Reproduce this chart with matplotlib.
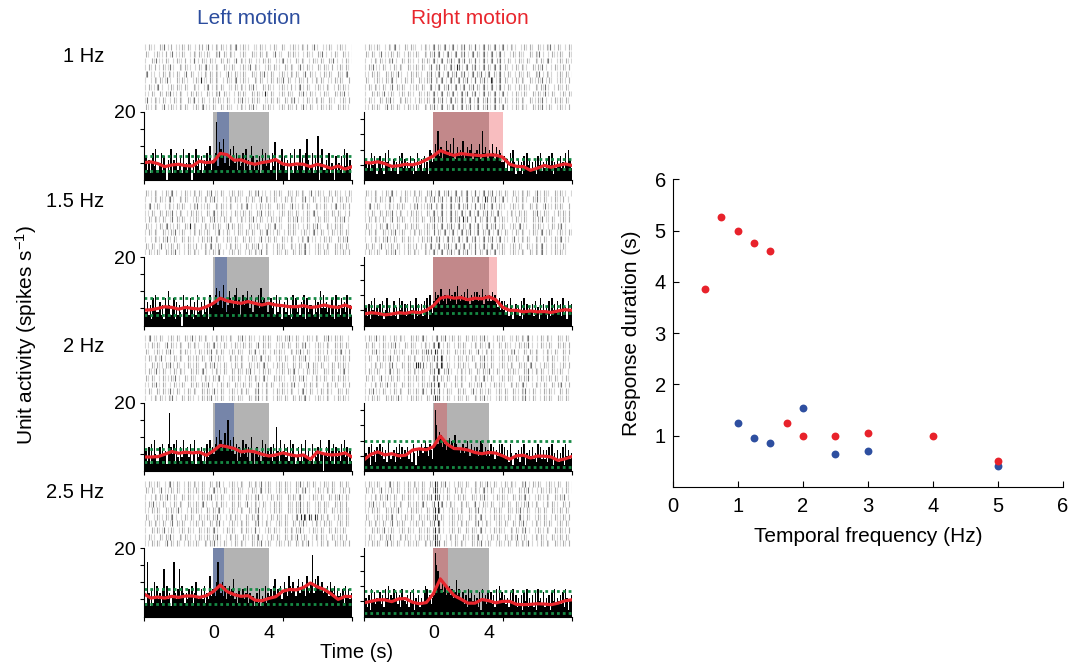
import numpy as np
import matplotlib.pyplot as plt

plt.rcParams['font.family'] = ['Liberation Sans', 'DejaVu Sans']
plt.rcParams['mathtext.fontset'] = 'custom'
plt.rcParams['mathtext.rm'] = 'Liberation Sans'
plt.rcParams['mathtext.it'] = 'Liberation Sans:italic'
plt.rcParams['mathtext.default'] = 'regular'

BLUE = '#2c4d9e'
RED = '#e8262d'
GREEN = '#168a44'

row_labels = ['1 Hz', '1.5 Hz', '2 Hz', '2.5 Hz']

# smoothed rate (spikes/s) every 0.5 s from -5 to 10 s
rate_t = np.arange(-5, 10.25, 0.5)
left_rate = [
    [5.1, 5.3, 4.8, 3.9, 4.4, 4.6, 4.2, 4.1, 5.5, 5.1, 5.3, 7.8, 7.4, 5.8, 5.9, 5.1,
     4.6, 5.1, 5.4, 6.0, 4.7, 4.4, 4.7, 4.6, 3.9, 4.6, 4.1, 3.4, 4.1, 3.2, 3.9],
    [4.5, 4.6, 5.0, 5.5, 5.3, 4.8, 5.3, 5.0, 4.8, 5.5, 6.5, 8.0, 7.2, 6.8, 6.5, 7.0,
     6.5, 6.0, 6.5, 6.0, 5.8, 5.5, 5.5, 5.8, 5.3, 5.5, 6.0, 5.5, 5.3, 6.0, 5.2],
    [4.1, 4.1, 4.2, 4.9, 5.7, 5.2, 5.5, 5.3, 5.5, 4.6, 5.9, 7.5, 7.1, 6.6, 5.6, 5.9,
     5.6, 4.9, 4.4, 4.7, 5.3, 4.8, 4.4, 4.7, 3.4, 5.6, 5.0, 4.7, 4.8, 5.3, 4.1],
    [6.6, 5.4, 5.7, 5.4, 5.9, 5.6, 6.0, 6.0, 5.6, 6.1, 7.3, 9.2, 7.3, 6.4, 5.9, 6.1,
     4.8, 4.6, 5.3, 5.8, 7.4, 7.9, 7.8, 8.5, 9.8, 8.7, 7.9, 6.6, 5.0, 5.9, 5.8],
]
right_rate = [
    [5.8, 5.6, 6.0, 5.4, 4.5, 4.7, 5.2, 5.0, 5.6, 6.7, 7.9, 9.7, 8.8, 8.1, 8.7, 8.4,
     8.2, 8.0, 8.3, 8.2, 7.5, 5.2, 4.5, 4.4, 3.2, 3.9, 4.8, 4.2, 4.8, 5.3, 4.8],
    [3.8, 4.2, 4.0, 3.5, 3.8, 4.2, 4.0, 4.5, 4.2, 5.0, 6.5, 9.0, 9.5, 9.0, 9.2, 8.5,
     9.0, 8.8, 9.5, 8.5, 6.0, 5.0, 5.0, 4.5, 4.8, 4.5, 4.6, 4.3, 4.8, 5.2, 5.0],
    [3.7, 5.5, 6.3, 5.3, 5.7, 5.0, 5.2, 6.9, 7.3, 7.0, 8.0, 11.5, 8.8, 7.4, 7.3, 6.9,
     6.1, 5.7, 6.1, 5.9, 5.0, 3.9, 5.0, 5.2, 4.3, 4.9, 4.9, 4.6, 3.5, 4.0, 4.8],
    [4.5, 5.0, 5.5, 5.5, 4.9, 5.8, 5.9, 4.7, 4.2, 4.6, 7.5, 12.4, 9.5, 6.9, 5.7, 4.4,
     4.4, 5.6, 5.2, 4.5, 5.0, 5.0, 4.0, 3.9, 4.0, 4.2, 4.1, 3.9, 4.4, 5.2, 5.5],
]

# dotted bounds
left_upper = [7.0, 8.0, 6.5, 8.1]
left_lower = [2.5, 3.2, 2.6, 3.7]
right_upper = [6.9, 6.5, 9.9, 8.3]
right_lower = [3.7, 4.0, 1.2, 1.3]

# response windows (s); stimulus on 0-4 s
left_win = [(0.25, 1.15), (0.15, 1.0), (0.12, 1.52), (0.0, 0.75)]
right_win = [(0.0, 5.0), (0.0, 4.6), (0.07, 1.0), (0.0, 1.05)]
stim_on, stim_off = 0, 4

# PSTH, 0.1 s bins from -5 s, one base-36 digit per bin (spikes/s)
left_psth = [
    "4736258493 3582740639 2648357294 5385062947 3726485a36 68h4b97c58 7496a58374 5829463a73 "
    "4637295846 7384b06359 4736085294 3594728c63 48273d0593 3648254073 5372948360",
    "5473628594 4736285a63 5827364095 4638527394 5738462957 79b6a85c74 6a8759b683 7968a75946 "
    "8695b78674 6857394862 5748362958 4637592846 6538472a59 5746385294 6385749263",
    "4637284953 37485628h7 5829437495 6748359264 5736284957 58a7c968b7 f796a58374 6958473a62 "
    "5746394856 57384d6295 6847394852 4738259463 3826473950 5749368274 6385947263",
    "64g7384a69 5748e69573 6g758e6974 7586947a65 6859475c68 86ag97a695 7968b57486 6857947563 "
    "5748365947 6859b68795 7a86c97a86 9b78a96c87 ai7b9c98a7 8796a87958 6758496857",
]
right_psth = [
    "5746395862 6847296a53 4736285947 3648527394 5738462a96 7c9g8b7a9d a8c9e79b8a 8d79b8ac79 "
    "9a8c7g9b87 a8c97b8a96 6847395a62 5736284957 3647285936 4738592647 5846395a74",
    "4637285946 3748259463 4836295847 3748562937 4738592a64 8b9a7c98a7 9c8a9b7d98 a9b8c97a8b "
    "9b8a9c7a98 a8b9a76958 5847396257 4638295746 5738462957 4628395748 5739462857",
    "3648295738 6958473a64 5738694857 5847396275 7968a85974 9kf9dc8b97 9b8a7c9876 7968a75968 "
    "6857a96857 5968475969 5847396256 4738592647 5846395847 4738592647 3648295746",
    "4637295846 5847396a57 6958473965 4738592647 3648a95746 7lhfc9b8a7 8a7968c796 5847396857 "
    "4638295748 5847395a68 5746385947 3647285936 4738295648 3647285946 5748396257",
]

# spike rasters, one string per trial, 0.2 s per character (. : | # = light to dark)
left_raster = [
    [".:.. :.|.: ..:.:. .:: .|.:.:..:.:|.:.. ..:.. .:. :. .:..:.: .|. ..:. .:.. :.",
     ":. .:..: .|..:. .:.:..:. :.|:.:.. .:. :..:.:. .|.. :.:.. .:.. :.|. .:. :..:",
     ". :.|..:. .:..: .:|.:..:.. :.:. .|:..:. ..:.:. ..:|.. :.:. .:..:. :.|. .:.:",
     ".:.: .:..|. :.:.. .:.:|..:. :..:. .:..|:.. .:.:.. :.:. .|.:.. :.:..: .:.:.",
     ":|.. .:.:..:. .|:. ..:.:.:.. .|.:..:. :..:.|.:. .:..:.:. .|:.. .:.:. :..:|",
     ". .:.:..|. :.:.. .:.#..:.:. .:..:|.:.. :.:. .:.:..|:. .:..: .:.:. ..:.:. :",
     ".:..:|. .:.:..:. :.. .:|.:.:. ..:.:..:.|. :.:.. .:..: .:|.:. .:..:. .:.:..",
     "..:. :.:.|..:. .:.:.. :..:.|:.. .:.:. :.:..#.:. .:.:.. :.|.:.. .:.. :.:.|.",
     ".|.:..:. .:.:. :..|.:. .:.:..:. .:.|..:.:. ..:.:. :.:.|. .:..:.:. :.. .:.:",
     ":..:. .|.:..:.:. .:.:|..:. :.:.. .:..:.|. :.:.. .:.:..: .|.:. .:..:. :.:.."],
    [":..:. .:.:|. .:..:.:. :.|..:. .:.:.. :.:.|.. .:.:. :..:.:. .|.:.. :.:.. .:.:",
     ". .:.:..:|. :.:. .:..:.:.|. ..:.:.. :.:. .|:..:. .:.:.. :.|.:. .:..: .:.:..",
     ".:|.:. .:..:.:. .:.|..:. :.:..:. .:.:|. .:..:. :.:. .|..:.:. :..:. .:|.:.:",
     "..:. :.:..|.:. .:.:.. :.:|.:.. .:..:.:. :.|.:.. .:.:..:. .:.:|. :..:.:. .:",
     ".:.:..:. .|:.:. ..:.:. :.|..:.:. .:..:.|.:. .:..:. :.:.|..:. .:.:.. :.:.|.",
     ":.. .:.:|..:. :.#:. .:..:.:. .|:.:.. :..:. .:.:|.. :.:.. .:.:.|. :..:.:. .",
     ".:.:. :..:.|.:. .:.:..:. .:|.:. .:..:.:. :.:|..:. .:.:. .:..:|.:. .:..:.:.",
     ". .:..:.|.:. :.:.. .:.:.|:. .:..:. :.:.. .|.:.:. :..:. .:.:|.. .:.:. :.:.|",
     ":.:. .|..:.:. .:..: .:.:|.:. .:.:.. :.:..|.:. .:.:. :..:.:|. .:..:. :.:.:.",
     ".:..:. :.:.|. .:.:.. :..:.:|. .:.:. .:.:..|:. .:..:. :.:.:|. .:.:.. :..:.:"],
    [".:|..:. .:.:. :..|.:.:. .:.:..:. :.|.:.. .:.:. :..:.|.:. .:..:. :.|.:.:. .",
     "..:.:. .|:..:. :.:.. .:.:|..:. .:..:.:. .|:.:. ..:.:. :.:.|. .:..:. :.:.:.",
     ":. .:..:.|. :.:.. .:..:.|:.:. .:.:.. :..|.:. .:.:.. :.:.|.:. .:..: .:.:|.:",
     ".:.:..|. .:.:. :..:.:. .|.:.. :.:.:. .:..:|.:. .:.:. :.:..|. .:.:.. :..:.:",
     ". :.:..:.|.:. .:..:. :.:.|..:. .:.:. :..:.:|. .:.:.. :.:. .|:..:. .:.:.:..",
     ".:..|.:. .:.:.. :.:.:|. .:..:. :.:..:.|. .:.:. ..:.:.:|. .:.:.. :..:. .:|.",
     ":.:. .:..:.|. :.:.. .:..:.:|. .:.:. .:.:..:|. :.:.. .:.:.|. .:..:. :.:.:..",
     "..:.|.:. .:..:. :.:.:..|. .:.:. :..:.:. .|.:.:. .:..:.|. :.:.:. .:..:. :.:",
     ".:. :.:..|.:. .:.:. :.:..|.:. .:..:.:. :.|.:. .:.:..:. .:|.:. .:.:.. :..:.",
     ". .:.:..:.|. :.:.. .:.:.|..:. .:.:.. :.:.|.:. .:..:. :.:.:|. .:..:. .:.:.."],
    [".:..:. .:|.:. .:.:..:. :.:.|. .:..:. :.:..|.:. .:.:.. :.|.:.:. .:..:. :.:.",
     ":.:. .|..:.:. .:..:.:. .:|..:. :.:.. .:..:|.:. .:.:.. :.:.|. .:..:.:. .:.:",
     ". .:.:..|.:. :.:.. .:.:.|..:. .:.:. :..:.|. .:.:.. :.:.:|. .:..:. :.:.|.:.",
     ".:.|..:. .:.:. :..:.:|. .:.:.. :.:. .|.:..:. .:.:. :..:.|.:. .:.:.. :.:.:",
     "..:.:. :.:..|. .:.:.. :.:.:|. .:..:. :.:.|.. .:.:. :..:.|.:. .:.:. :..:.:.",
     ":. .:..:.:|. .:.:. :..:.:.|. .:.:.. :.:.:|. .:.:..:. .:|##|#|#|:.:. .:..:.",
     ".:.:..:. .|:.:. ..:.:. :.:.|. .:..:.:. :.|.:.. .:.:. :.:.|. .:..:.:. .:.:.",
     ". :.:..|.:. .:.:.. :..:.:|. .:.:. :.:..:|. .:.:.. :.:.:.|. .:..:. :.:..:.",
     ".:.. :.:.|. :.:.. .:..:.:.|. .:.:. :..:.:|. .:.:. :.:..|.:. .:.:.. :..:.:",
     "..:.:. .|:.:. .:..:. :.:.|..:. .:.:.. :.:.|.:. .:..:. :.:..|. .:.:. :..:.:"],
]
right_raster = [
    [".:..:. .:.:|. :.:.. .:..:|:.:|.:|.:.|:.:|.:|:.:|.:|.:.. .:.:. :..:.|.:. .:.:",
     ":.:. .|..:.:. .:..:. :.:.|:|.:|.:|:.|.:|:.:|.:|.:|. .:.:.. :.:.|. .:..:. :.",
     ". .:.:..:.|. :.:.. .:.:.:|.:|:.|.:|.|:.:|.:|.:|:.|.:. .:..:. :.:.:|. .:.:..",
     ".:.|..:. .:.:. :..:.:. .|:.|:.:|.#|.:|:.|.:|:.:|.|:. .:.:.. :.:.|. .:..:.:",
     "..:.:. :.:..|. .:.:.. :.|.:|.:|:.|:.|.:|:.|.:|:.:|.:. .:..:. :.|.:.. .:.:.:",
     ":. .:..:.:|. .:.:. :..:.|:.:|.:|.:|:.|.:|:.|.#|.:|:. .:.:. :..:.|.:. .:..:",
     ".:.:..:. .|:.:. ..:.:. :|.:|:.|.:|.:|:.|:.:|.:|.:|.:. .:.:.. :.:.|. .:..:.",
     ". :.:..|.:. .:.:.. :..:.:|.:|:.:|.:|.|:.|.:|:.:|.:|. .:..:. :.:..|.:. .:.:.",
     ".:.. :.:.|. :.:.. .:..:.:|:.|.:|:.:|.:|.:|:.|.:|:.:. .:.:. :..:.|. .:.:.:.",
     "..:.:. .|:.:. .:..:. :.:.|.:|:.:|.:|:.|.:|:.|.:|.:|. .:.:.. :.:.|.:. .:..:"],
    [":..:. .:.:|. .:..:.:. :.|.:|:.|.:|:.:|.:|.:|:.|.:.:. :..:.:. .|.:.. :.:.. .",
     ". .:.:..:|. :.:. .:..:.:.|:.|.:|:.|.:|:.:|.#|:.|.:|. .:.:.. :.|.:. .:..: .",
     ".:|.:. .:..:.:. .:.|..:.|:.:|.:|.:|:.|.:|:.|.:|.:.. .:..:. :.:. .|..:.:. :",
     "..:. :.:..|.:. .:.:.. :.:|.:|.:|:.:|.:|.:|:.|:.:|. .:..:.:. :.|.:.. .:.:.:",
     ".:.:..:. .|:.:. ..:.:. :.|:.|.:|:.|#.|.:|:.:|.:|.:.. .:..:. :.:.|..:. .:.:",
     ":.. .:.:|..:. :.:.:. .:..|.:|:.|.:|:.:|.:|.:|:.|.:. .:.:|.. :.:.. .:.:.|. :",
     ".:.:. :..:.|.:. .:.:..:. |:.:|.:|.:|:.|.:|:.:|.:|.:. .:.:. .:..:|.:. .:..:.",
     ". .:..:.|.:. :.:.. .:.:.|:.|.:|:.:|.:|:.|.:|:.|.:|.. .|.:.:. :..:. .:.:|..",
     ":.:. .|..:.:. .:..: .:.:|.:|:.|.:|.:|:.:|.:|.:|:.:. .:.:. :..:.:|. .:..:.",
     ".:..:. :.:.|. .:.:.. :..:|.:|:.|.:|:.|.:|:.:|.:|.:. .:..:. :.:.:|. .:.:.."],
    [".:..|.:. .:.:.. :.:.:|. .:|:.|.:.:. :.:..:.|. .:.:. ..:.:.:|. .:.:.. :..:.",
     ":.:. .:..:.|. :.:.. .:..:|#|.:. .:.:. .:.:..:|. :.:.. .:.:.|. .:..:. :.:.:",
     "..:.|.:. .:..:. :.:.:.|||#|:.:. :..:.:. .|.:.:. .:..:.|. :.:.:. .:..:. :.:",
     ".:. :.:..|.:. .:.:. :.:..||#|.. .:..:.:. :.|.:. .:.:..:. .:|.:. .:.:.. :..",
     ". .:.:..:.|. :.:..##||.:.:|#|:. .:.:.. :.:.|.:. .:..:. :.:.:|. .:..:. .:.:",
     ".:..:. .:|.:. .:.:..:. :.|#|:.|. .:..:. :.:..|.:. .:.:.. :.|.:.:. .:..:. .",
     ":.:. .|..:.:. .:..:.:. .:||:.:. :.:.. .:..:|.:. .:.:.. :.:.|. .:..:.:. .:.",
     ". .:.:..|.:. :.:.. .:.:.||#|:. .:.:. :..:.|. .:.:.. :.:.:|. .:..:. :.:.|.:",
     ".:.|..:. .:.:. :..:.:|. ||.|.:.. :.:. .|.:..:. .:.:. :..:.|.:. .:.:.. :.:.",
     "..:.:. :.:..|. .:.:.. :.:#||.:. .:..:. :.:.|.. .:.:. :..:.|.:. .:.:. :..:."],
    [".:..:. .:|.:. .:.:..:. :.#|:.|. .:..:. :.:..|.:. .:.:.. :.|.:.:. .:..:. :.:",
     ":.:. .|..:.:. .:..:.:. .:#|..:. :.:.. .:..:|.:. .:.:.. :.:.|. .:..:.:. .:.:",
     ". .:.:..|.:. :.:.. .:.:.|#||.:. .:.:. :..:.|. .:.:.. :.:.:|. .:..:. :.:.|.",
     ".:.|..:. .:.:. :..:.:|. .|#:|.:.. :.:. .|.:..:. .:.:. :..:.|.:. .:.:.. :.:",
     "..:.:. :.:..|. .:.:.. :.:##|. .:..:. :.:.|.. .:.:. :..:.|.:. .:.:. :..:.:.",
     ":. .:..:.:|. .:.:. :..:.:#|:. .:.:.. :.:.:|. .:.:..:. .:|.:. .:.:. .:..:.:",
     ".:.:..:. .|:.:. ..:.:. :.|#|. .:..:.:. :.|.:.. .:.:. :.:.|. .:..:.:. .:.:.",
     ". :.:..|.:. .:.:.. :..:.:#:|. .:.:. :.:..:|. .:.:.. :.:.:.|. .:..:. :.:..:",
     ".:.. :.:.|. :.:.. .:..:.:#|. .:.:. :..:.:|. .:.:. :.:..|.:. .:.:.. :..:.:.",
     "..:.:. .|:.:. .:..:. :.:.#||:. .:.:.. :.:.|.:. .:..:. :.:..|. .:.:. :..:.:"],
]

# response duration vs temporal frequency
tf_right = [0.5, 0.75, 1, 1.25, 1.5, 1.75, 2, 2.5, 3, 4, 5]
dur_right = [3.87, 5.27, 5.0, 4.76, 4.6, 1.25, 1.0, 1.0, 1.05, 1.0, 0.5]
tf_left = [1, 1.25, 1.5, 2, 2.5, 3, 5]
dur_left = [1.25, 0.95, 0.85, 1.55, 0.65, 0.7, 0.4]

W, H = 1072, 668
fig = plt.figure(figsize=(W / 100, H / 100), dpi=100)


def px_axes(x0, y0, x1, y1):
    return fig.add_axes([x0 / W, 1 - y1 / H, (x1 - x0) / W, (y1 - y0) / H])


# tick shade and a small sideways nudge per raster symbol
shades = {'.': ('0.84', 0.0), ':': ('0.68', 0.07), '|': ('0.45', -0.06), '#': ('0.15', 0.03)}
bins = -5 + 0.05 + 0.1 * np.arange(150)


def decode(s):
    s = s.replace(' ', '').ljust(150, '0')[:150]
    return np.array([int(ch, 36) for ch in s], float)


def draw_raster(ax, rows):
    xs, lo, hi, cols = [], [], [], []
    for r, row in enumerate(rows):
        for c, ch in enumerate(row.ljust(75)[:75]):
            if ch in shades:
                shade, nudge = shades[ch]
                xs.append(-5 + 0.2 * c + 0.1 + nudge)
                lo.append(r + 0.05)
                hi.append(r + 0.95)
                cols.append(shade)
    ax.vlines(xs, lo, hi, colors=cols, lw=0.8)
    ax.set_xlim(-5, 10)
    ax.set_ylim(len(rows), 0)
    ax.axis('off')


def draw_psth(ax, counts, rate, upper, lower, win, color, alpha, ymax, bottom, left):
    ax.axvspan(stim_on, stim_off, color='#b3b3b3', lw=0)
    ax.axvspan(win[0], win[1], color=color, alpha=alpha, lw=0)
    ax.bar(bins, decode(counts), width=0.1, color='black', lw=0, antialiased=False)
    for lvl in (upper, lower):
        ax.axhline(lvl, color=GREEN, lw=2.0, ls=(0, (1, 1.1)))
    ax.plot(rate_t, rate, color=RED, lw=2.3, solid_capstyle='round', solid_joinstyle='round')
    ax.set_xlim(-5, 10)
    ax.set_ylim(0, ymax)
    for side in ('top', 'right'):
        ax.spines[side].set_visible(False)
    for side in ('left', 'bottom'):
        ax.spines[side].set_linewidth(0.8)
    ax.set_yticks([5, 10, 15, 20])
    ax.set_yticklabels(['', '', '', '20'] if left else [])
    ax.tick_params(axis='y', direction='out', length=3, width=0.8, labelsize=14, pad=3)
    ax.set_xticks([-5, 0, 5, 10], minor=True)
    ax.tick_params(axis='x', which='minor', direction='out', length=3, width=0.8)
    if bottom:
        ax.set_xticks([0, 4])
        ax.set_xticklabels(['0', '4'])
        ax.tick_params(axis='x', which='major', length=0, labelsize=14, pad=6)
    else:
        ax.set_xticks([])


col_x = [144, 364]
for k in range(4):
    off = 145.5 * k
    for j in range(2):
        x0 = col_x[j]
        ax_r = px_axes(x0, 44 + off, x0 + 208, 110 + off)
        draw_raster(ax_r, left_raster[k] if j == 0 else right_raster[k])
        ax_p = px_axes(x0, 111.7 + off, x0 + 208, 180 + off)
        if j == 0:
            draw_psth(ax_p, left_psth[k], left_rate[k], left_upper[k], left_lower[k],
                      left_win[k], BLUE, 0.45, 20, k == 3, True)
        else:
            draw_psth(ax_p, right_psth[k], right_rate[k], right_upper[k], right_lower[k],
                      right_win[k], RED, 0.3, 22.5, k == 3, False)
    fig.text(104 / W, 1 - (56 + off) / H, row_labels[k], ha='right', va='center', fontsize=14.5)

fig.text(249 / W, 1 - 18 / H, 'Left motion', color=BLUE, ha='center', va='center', fontsize=15)
fig.text(470 / W, 1 - 18 / H, 'Right motion', color=RED, ha='center', va='center', fontsize=15)
fig.text(357 / W, 1 - 653 / H, 'Time (s)', ha='center', va='center', fontsize=14.5)
fig.text(26 / W, 1 - 335 / H, 'Unit activity (spikes s$^{-1}$)', rotation=90,
         ha='center', va='center', fontsize=15)

# summary scatter
ax = px_axes(672.7, 179.3, 1063, 487)
ax.scatter(tf_left, dur_left, s=32, color='#2e4fa0', lw=0, zorder=3)
ax.scatter(tf_right, dur_right, s=32, color='#e8222b', lw=0, zorder=4)
ax.set_xlim(0, 6)
ax.set_ylim(0, 6)
ax.set_xticks(range(7))
ax.set_yticks(range(1, 7))
for side in ('top', 'right'):
    ax.spines[side].set_visible(False)
for side in ('left', 'bottom'):
    ax.spines[side].set_linewidth(0.8)
ax.tick_params(direction='in', length=4, width=0.8, labelsize=14.5)
ax.tick_params(axis='x', pad=7)
ax.tick_params(axis='y', pad=5)
ax.set_xlabel('Temporal frequency (Hz)', fontsize=15, labelpad=8)
ax.set_ylabel('Response duration (s)', fontsize=15, labelpad=10)

fig.savefig('out.png', dpi=100)
